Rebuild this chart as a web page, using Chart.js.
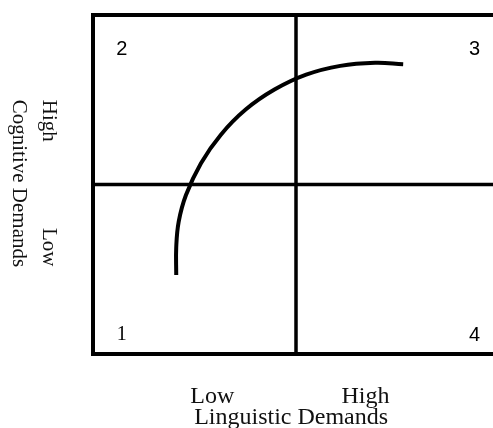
<!DOCTYPE html>
<html>
<head>
<meta charset="utf-8">
<script src="https://cdn.jsdelivr.net/npm/chart.js@4.4.1/dist/chart.umd.min.js"></script>
<style>
    html, body { margin: 0; padding: 0; background: #fff; overflow: hidden; }
    #wrap { position: relative; width: 500px; height: 428px; }
</style>
</head>
<body>
<div id="wrap"><canvas id="chart"></canvas></div>
<script>
// Curva, eixos de 0 a 10, divisão no meio (5)
const curveX = [2.05, 2.05, 2.11, 2.29, 2.66, 3.15, 3.76, 4.47, 5.25, 6.09, 6.95, 7.64];
const curveY = [2.33, 3.15, 3.90, 4.69, 5.63, 6.47, 7.21, 7.80, 8.24, 8.50, 8.59, 8.55];
const quadrantLabels = ['1', '2', '3', '4'];
const xLevels = ['Low', 'High'];
const yLevels = ['High', 'Low'];
const xTitle = 'Linguistic Demands';
const yTitle = 'Cognitive Demands';

const serif = "'Liberation Serif', 'Times New Roman', serif";
const sans = "'Liberation Sans', Arial, sans-serif";

// Desenha a caixa, as divisões e os textos
const quadrantPlugin = {
    id: 'quadrants',
    afterDatasetsDraw(chart) {
        const ctx = chart.ctx;
        const x = chart.scales.x;
        const y = chart.scales.y;
        const x0 = x.getPixelForValue(0), x5 = x.getPixelForValue(5), x10 = x.getPixelForValue(10);
        const y0 = y.getPixelForValue(0), y5 = y.getPixelForValue(5), y10 = y.getPixelForValue(10);

        ctx.save();
        ctx.strokeStyle = '#000';
        ctx.lineWidth = 4;
        ctx.lineCap = 'square';
        ctx.beginPath();
        ctx.moveTo(x10, y10); ctx.lineTo(x0, y10); ctx.lineTo(x0, y0); ctx.lineTo(x10, y0);
        ctx.stroke();
        ctx.lineWidth = 3.5;
        ctx.beginPath();
        ctx.moveTo(x5, y10); ctx.lineTo(x5, y0);
        ctx.moveTo(x0, y5); ctx.lineTo(x10, y5);
        ctx.stroke();

        // números dos quadrantes
        ctx.fillStyle = '#000';
        ctx.textAlign = 'center';
        ctx.textBaseline = 'middle';
        ctx.font = '20px ' + serif;
        ctx.fillText(quadrantLabels[0], x.getPixelForValue(0.71), y.getPixelForValue(0.56));
        ctx.font = '20px ' + sans;
        ctx.fillText(quadrantLabels[1], x.getPixelForValue(0.71), y.getPixelForValue(8.97));
        ctx.fillText(quadrantLabels[2], x.getPixelForValue(9.4), y.getPixelForValue(8.97));
        ctx.fillText(quadrantLabels[3], x.getPixelForValue(9.4), y.getPixelForValue(0.56));

        // eixo x
        ctx.fillStyle = '#111';
        ctx.font = '24px ' + serif;
        ctx.textBaseline = 'alphabetic';
        ctx.fillText(xLevels[0], x.getPixelForValue(2.94), y0 + 49);
        ctx.fillText(xLevels[1], x.getPixelForValue(6.71), y0 + 49);
        ctx.fillText(xTitle, x.getPixelForValue(4.88), y0 + 70);

        // eixo y (texto girado)
        ctx.font = '21px ' + serif;
        ctx.textAlign = 'left';
        const vtext = (txt, bx, ty) => {
            ctx.save();
            ctx.translate(bx, ty);
            ctx.rotate(Math.PI / 2);
            ctx.fillText(txt, 0, 0);
            ctx.restore();
        };
        vtext(yLevels[0], x0 - 50, y.getPixelForValue(7.5));
        vtext(yLevels[1], x0 - 50, y.getPixelForValue(3.72));
        vtext(yTitle, x0 - 80, y.getPixelForValue(7.5));
        ctx.restore();
    }
};

const ctx = document.getElementById('chart').getContext('2d');
new Chart(ctx, {
    type: 'scatter',
    data: {
        datasets: [{
            data: curveX.map((v, i) => ({ x: v, y: curveY[i] })),
            showLine: true,
            borderColor: '#000',
            borderWidth: 4,
            tension: 0.4,
            pointRadius: 0,
            fill: false
        }]
    },
    options: {
        responsive: true,
        maintainAspectRatio: false,
        animation: false,
        layout: { padding: { left: 93, right: 1, top: 15, bottom: 74 } },
        plugins: { legend: { display: false }, tooltip: { enabled: false } },
        scales: {
            x: { type: 'linear', min: 0, max: 10, display: false },
            y: { type: 'linear', min: 0, max: 10, display: false }
        }
    },
    plugins: [quadrantPlugin]
});
</script>
</body>
</html>
